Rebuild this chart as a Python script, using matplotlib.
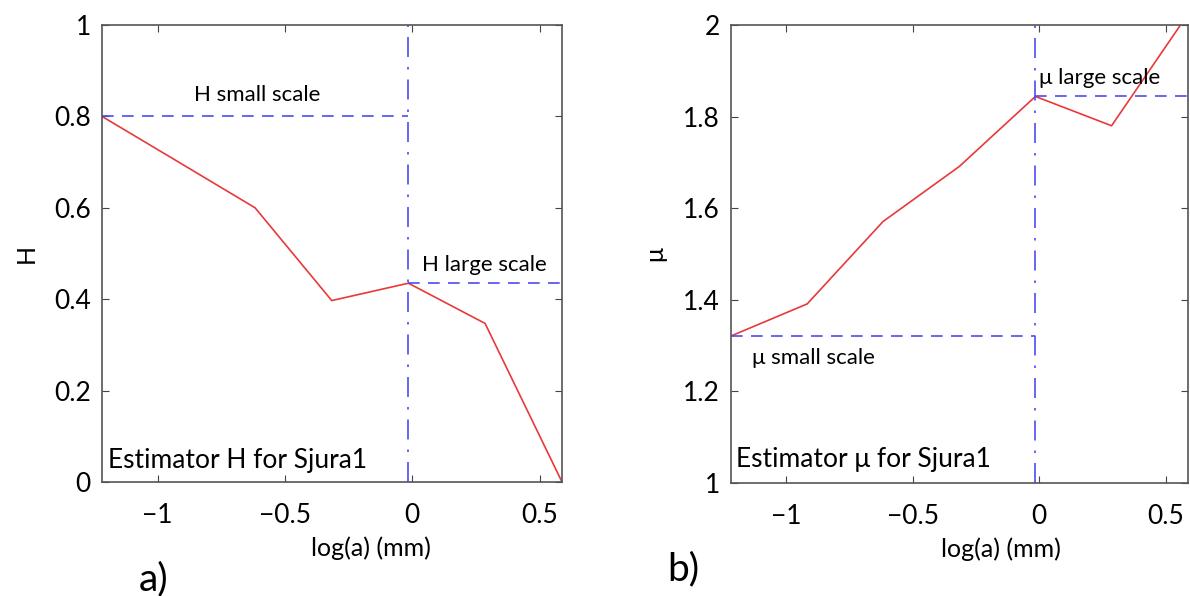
import matplotlib.pyplot as plt

plt.rcParams['font.family'] = ['Lato', 'DejaVu Sans']

# log(a) sample positions (mm)
log_a = [-1.218, -0.917, -0.617, -0.316, -0.015, 0.286, 0.588]
H_vals = [0.80, 0.70, 0.60, 0.397, 0.435, 0.347, 0.0]
mu_vals = [1.321, 1.391, 1.571, 1.691, 1.844, 1.780, 2.024]

split_x = -0.015
H_small, H_large = 0.80, 0.435
mu_small, mu_large = 1.321, 1.844

x_ticks = [-1, -0.5, 0, 0.5]
x_ticklabels = ['\u22121', '\u22120.5', '0', '0.5']
H_ticks = [0, 0.2, 0.4, 0.6, 0.8, 1]
H_ticklabels = ['0', '0.2', '0.4', '0.6', '0.8', '1']
mu_ticks = [1, 1.2, 1.4, 1.6, 1.8, 2]
mu_ticklabels = ['1', '1.2', '1.4', '1.6', '1.8', '2']

RED = '#e8393a'
BLUE = '#4b4bf0'


def style_axes(ax, yticks, yticklabels, ylim):
    ax.set_xlim(log_a[0], log_a[-1])
    ax.set_ylim(*ylim)
    ax.set_xticks(x_ticks)
    ax.set_xticklabels(x_ticklabels)
    ax.set_yticks(yticks)
    ax.set_yticklabels(yticklabels)
    ax.tick_params(direction='in', top=True, right=True, length=5,
                   width=0.8, color='#444444', labelsize=19)
    ax.tick_params(axis='x', pad=15)
    ax.tick_params(axis='y', pad=8)
    for s in ax.spines.values():
        s.set_color('#555555')
        s.set_linewidth(1.2)


fig = plt.figure(figsize=(11.9, 5.96), dpi=100)
ax1 = fig.add_axes([102 / 1190, 114 / 596, 460 / 1190, 457 / 596])
ax2 = fig.add_axes([731 / 1190, 113 / 596, 457 / 1190, 458 / 596])

# panel a
ax1.plot(log_a, H_vals, color=RED, lw=1.2)
ax1.plot([log_a[0], split_x], [H_small, H_small], color=BLUE, lw=1.2, dashes=(7, 5))
ax1.plot([split_x, log_a[-1]], [H_large, H_large], color=BLUE, lw=1.2, dashes=(7, 5))
ax1.axvline(split_x, color=BLUE, lw=1.2, linestyle=(0, (12, 6, 1.5, 6)))
style_axes(ax1, H_ticks, H_ticklabels, (0, 1))
ax1.text(-0.856, 0.847, 'H small scale', fontsize=16, va='center')
ax1.text(0.04, 0.475, 'H large scale', fontsize=16, va='center')
ax1.text(-1.196, 0.048, 'Estimator H for Sjura1', fontsize=19, va='center')
ax1.set_ylabel('H', fontsize=18, labelpad=12)
ax1.text(0.585, -0.145, 'log(a) (mm)', transform=ax1.transAxes,
         fontsize=18, ha='center', va='center')
fig.text(154 / 1190, 1 - 590 / 596, 'a)', fontsize=28, ha='center', va='baseline')

# panel b
ax2.plot(log_a, mu_vals, color=RED, lw=1.2)
ax2.plot([log_a[0], split_x], [mu_small, mu_small], color=BLUE, lw=1.2, dashes=(7, 5))
ax2.plot([split_x, log_a[-1]], [mu_large, mu_large], color=BLUE, lw=1.2, dashes=(7, 5))
ax2.axvline(split_x, color=BLUE, lw=1.2, linestyle=(0, (12, 6, 1.5, 6)))
style_axes(ax2, mu_ticks, mu_ticklabels, (1, 2))
ax2.text(0.0, 1.885, '\u03bc large scale', fontsize=16, va='center')
ax2.text(-1.136, 1.274, '\u03bc small scale', fontsize=16, va='center')
ax2.text(-1.2, 1.051, 'Estimator \u03bc for Sjura1', fontsize=19, va='center')
ax2.set_ylabel('\u03bc', fontsize=18, labelpad=12)
ax2.text(0.59, -0.145, 'log(a) (mm)', transform=ax2.transAxes,
         fontsize=18, ha='center', va='center')
fig.text(683 / 1190, 1 - 580 / 596, 'b)', fontsize=28, ha='center', va='baseline')

fig.savefig('out.png', dpi=100)
